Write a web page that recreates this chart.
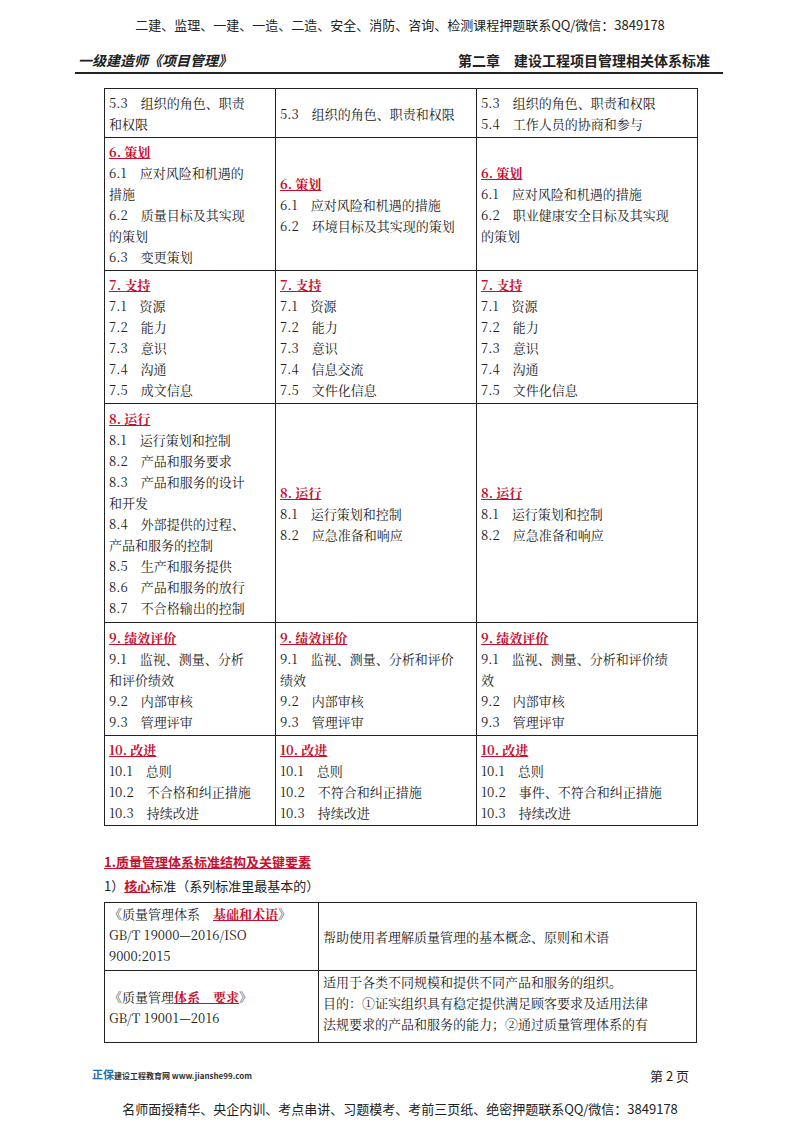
<!DOCTYPE html>
<html><head><meta charset="utf-8">
<script src="https://cdn.jsdelivr.net/npm/chart.js@4"></script>
<style>
body{margin:0;width:800px;height:1132px;background:#fff;font-family:"Noto Sans CJK SC","Noto Sans",sans-serif;color:#222;position:relative;overflow:hidden}
.abs{position:absolute}
table{border-collapse:collapse;position:absolute;table-layout:fixed}
td{border:1px solid #222;font-size:13px;line-height:21px;padding:0 4px;vertical-align:middle;font-family:"Noto Serif CJK SC","Noto Sans CJK SC",serif}
.h{color:#c8102e;font-weight:bold;text-decoration:underline}
</style></head><body>
<div class="abs" style="top:15px;width:800px;text-align:center;font-size:13px">二建、监理、一建、一造、二造、安全、消防、咨询、检测课程押题联系QQ/微信：3849178</div>
<div class="abs" style="left:78px;top:50px;font-size:14px;font-weight:bold;font-style:italic">一级建造师《项目管理》</div>
<div class="abs" style="left:458px;top:50px;font-size:14px;font-weight:bold">第二章　建设工程项目管理相关体系标准</div>
<div class="abs" style="left:75px;top:72px;width:648px;border-top:2px solid #222"></div>
<table id="t1" style="left:104px;top:88px;width:593px"></table>
<div class="abs" style="left:104px;top:852px;font-size:13px" ><span class="h">1.质量管理体系标准结构及关键要素</span></div>
<div class="abs" style="left:104px;top:876px;font-size:13px">1）<span class="h">核心</span>标准（系列标准里最基本的）</div>
<table style="left:104px;top:902px;width:593px">
<colgroup><col style="width:214px"><col></colgroup>
<tr style="height:68px"><td style="vertical-align:top">《质量管理体系　<span class="h">基础和术语</span>》<br>GB/T 19000—2016/ISO<br>9000:2015</td><td>帮助使用者理解质量管理的基本概念、原则和术语</td></tr>
<tr style="height:72px"><td>《质量管理<span class="h">体系　要求</span>》<br>GB/T 19001—2016</td><td style="vertical-align:top">适用于各类不同规模和提供不同产品和服务的组织。<br>目的：①证实组织具有稳定提供满足顾客要求及适用法律<br>法规要求的产品和服务的能力；②通过质量管理体系的有</td></tr>
</table>
<div class="abs" style="left:92px;top:1066px;font-size:11px;color:#2a6fb3;font-weight:bold">正保<span style="font-size:8px;color:#333">建设工程教育网 www.jianshe99.com</span></div>
<div class="abs" style="left:650px;top:1066px;font-size:13px">第 2 页</div>
<div class="abs" style="top:1099px;width:800px;text-align:center;font-size:13px">名师面授精华、央企内训、考点串讲、习题模考、考前三页纸、绝密押题联系QQ/微信：3849178</div>
<script>
const rowHeights = [49, 133, 133, 219, 113, 90];
const colWidths = [171, 201, 221];
const col1 = [
  ['5.3　组织的角色、职责','和权限'],
  ['#6. 策划','6.1　应对风险和机遇的','措施','6.2　质量目标及其实现','的策划','6.3　变更策划'],
  ['#7. 支持','7.1　资源','7.2　能力','7.3　意识','7.4　沟通','7.5　成文信息'],
  ['#8. 运行','8.1　运行策划和控制','8.2　产品和服务要求','8.3　产品和服务的设计','和开发','8.4　外部提供的过程、','产品和服务的控制','8.5　生产和服务提供','8.6　产品和服务的放行','8.7　不合格输出的控制'],
  ['#9. 绩效评价','9.1　监视、测量、分析','和评价绩效','9.2　内部审核','9.3　管理评审'],
  ['#10. 改进','10.1　总则','10.2　不合格和纠正措施','10.3　持续改进']
];
const col2 = [
  ['5.3　组织的角色、职责和权限'],
  ['#6. 策划','6.1　应对风险和机遇的措施','6.2　环境目标及其实现的策划'],
  ['#7. 支持','7.1　资源','7.2　能力','7.3　意识','7.4　信息交流','7.5　文件化信息'],
  ['#8. 运行','8.1　运行策划和控制','8.2　应急准备和响应'],
  ['#9. 绩效评价','9.1　监视、测量、分析和评价','绩效','9.2　内部审核','9.3　管理评审'],
  ['#10. 改进','10.1　总则','10.2　不符合和纠正措施','10.3　持续改进']
];
const col3 = [
  ['5.3　组织的角色、职责和权限','5.4　工作人员的协商和参与'],
  ['#6. 策划','6.1　应对风险和机遇的措施','6.2　职业健康安全目标及其实现','的策划'],
  ['#7. 支持','7.1　资源','7.2　能力','7.3　意识','7.4　沟通','7.5　文件化信息'],
  ['#8. 运行','8.1　运行策划和控制','8.2　应急准备和响应'],
  ['#9. 绩效评价','9.1　监视、测量、分析和评价绩','效','9.2　内部审核','9.3　管理评审'],
  ['#10. 改进','10.1　总则','10.2　事件、不符合和纠正措施','10.3　持续改进']
];
const t = document.getElementById('t1');
let html = '<colgroup>' + colWidths.map(w => `<col style="width:${w}px">`).join('') + '</colgroup>';
rowHeights.forEach((h, i) => {
  html += `<tr style="height:${h}px">`;
  [col1, col2, col3].forEach(c => {
    html += '<td>' + c[i].map(s => s[0] === '#' ? `<span class="h">${s.slice(1)}</span>` : s).join('<br>') + '</td>';
  });
  html += '</tr>';
});
t.innerHTML = html;
</script>
</body></html>
